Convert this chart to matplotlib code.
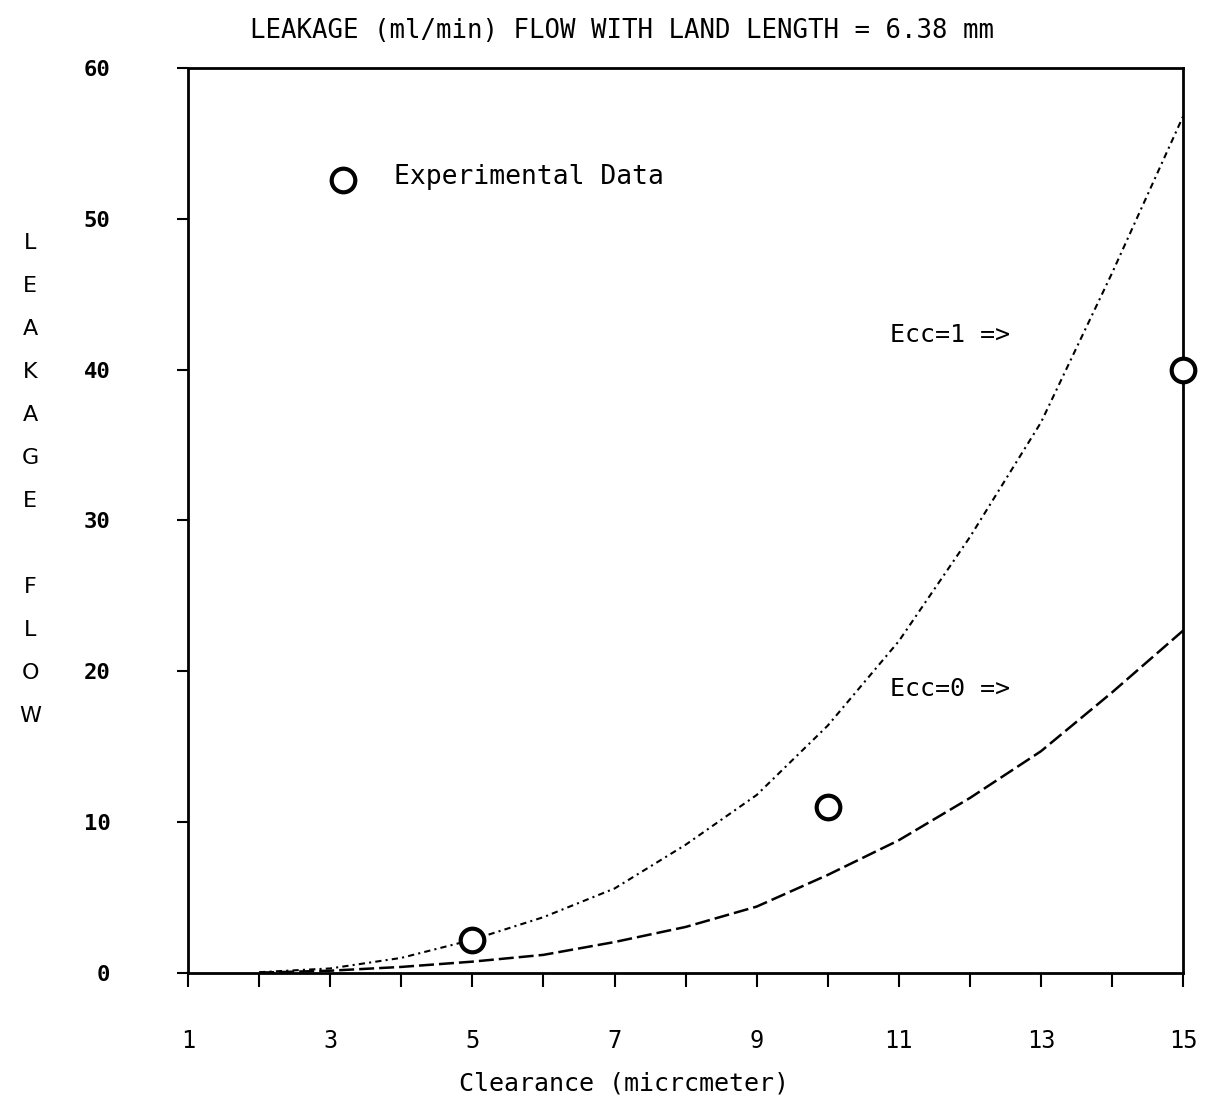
import matplotlib
matplotlib.use("Agg")
import matplotlib.pyplot as plt

# clearance (micrometer) and leakage flow (ml/min)
clearance = [2, 3, 4, 5, 6, 7, 8, 9, 10, 11, 12, 13, 14, 15]
ecc1_flow = [0.05, 0.3, 1.0, 2.2, 3.7, 5.6, 8.5, 11.8, 16.4, 22.0, 28.9, 36.5, 46.4, 56.8]
ecc0_flow = [0.02, 0.15, 0.4, 0.75, 1.2, 2.05, 3.05, 4.4, 6.5, 8.8, 11.6, 14.7, 18.6, 22.7]

exp_clearance = [5, 10, 15]
exp_flow = [2.2, 11.0, 40.0]

xticks = list(range(1, 16))
xlabels = [str(v) if v % 2 == 1 else "" for v in xticks]
yticks = [0, 10, 20, 30, 40, 50, 60]
ylabels = [str(v) for v in yticks]
ylabel_letters = ["L", "E", "A", "K", "A", "G", "E", "", "F", "L", "O", "W"]

mono = "DejaVu Sans Mono"

fig = plt.figure(figsize=(12.06, 11.01), dpi=100)
ax = fig.add_axes([0.156, 0.1163, 0.825, 0.8219])

ax.plot(clearance, ecc1_flow, color="black", lw=1.5, linestyle=(0, (3, 2, 1, 2)))
ax.plot(clearance, ecc0_flow, color="black", lw=1.8, linestyle=(0, (6, 2)))
ax.plot(exp_clearance, exp_flow, "o", ms=17, mfc="white", mec="black", mew=3,
        clip_on=False, zorder=5)

# legend entry drawn by hand like the original
ax.plot([3.18], [52.6], "o", ms=17, mfc="white", mec="black", mew=3)
ax.text(3.9, 52.8, "Experimental Data", family=mono, fontsize=19, va="center")

ax.text(10.88, 42.3, "Ecc=1 =>", family=mono, fontsize=18, va="center")
ax.text(10.88, 18.8, "Ecc=0 =>", family=mono, fontsize=18, va="center")

ax.set_xlim(1, 15)
ax.set_ylim(0, 60)
ax.set_xticks(xticks)
ax.set_xticklabels(xlabels, family=mono, fontsize=17)
ax.set_yticks(yticks)
ax.set_yticklabels(ylabels, family=mono, fontsize=16, fontweight="bold")
ax.tick_params(axis="x", direction="out", length=10, width=1.5, pad=30)
ax.tick_params(axis="y", direction="out", length=8, width=1.5, pad=48)
for s in ax.spines.values():
    s.set_linewidth(2)

fig.text(0.517, 0.0163, "Clearance (micrcmeter)", family=mono, fontsize=18,
         ha="center", va="center")

fig.text(0.516, 0.972, "LEAKAGE (ml/min) FLOW WITH LAND LENGTH = 6.38 mm",
         family=mono, fontsize=18.5, ha="center", va="center")

for i, ch in enumerate(ylabel_letters):
    fig.text(0.025, 1 - (243 + i * 43) / 1101, ch, fontsize=16,
             ha="center", va="center")

fig.savefig("out.png", dpi=100)
